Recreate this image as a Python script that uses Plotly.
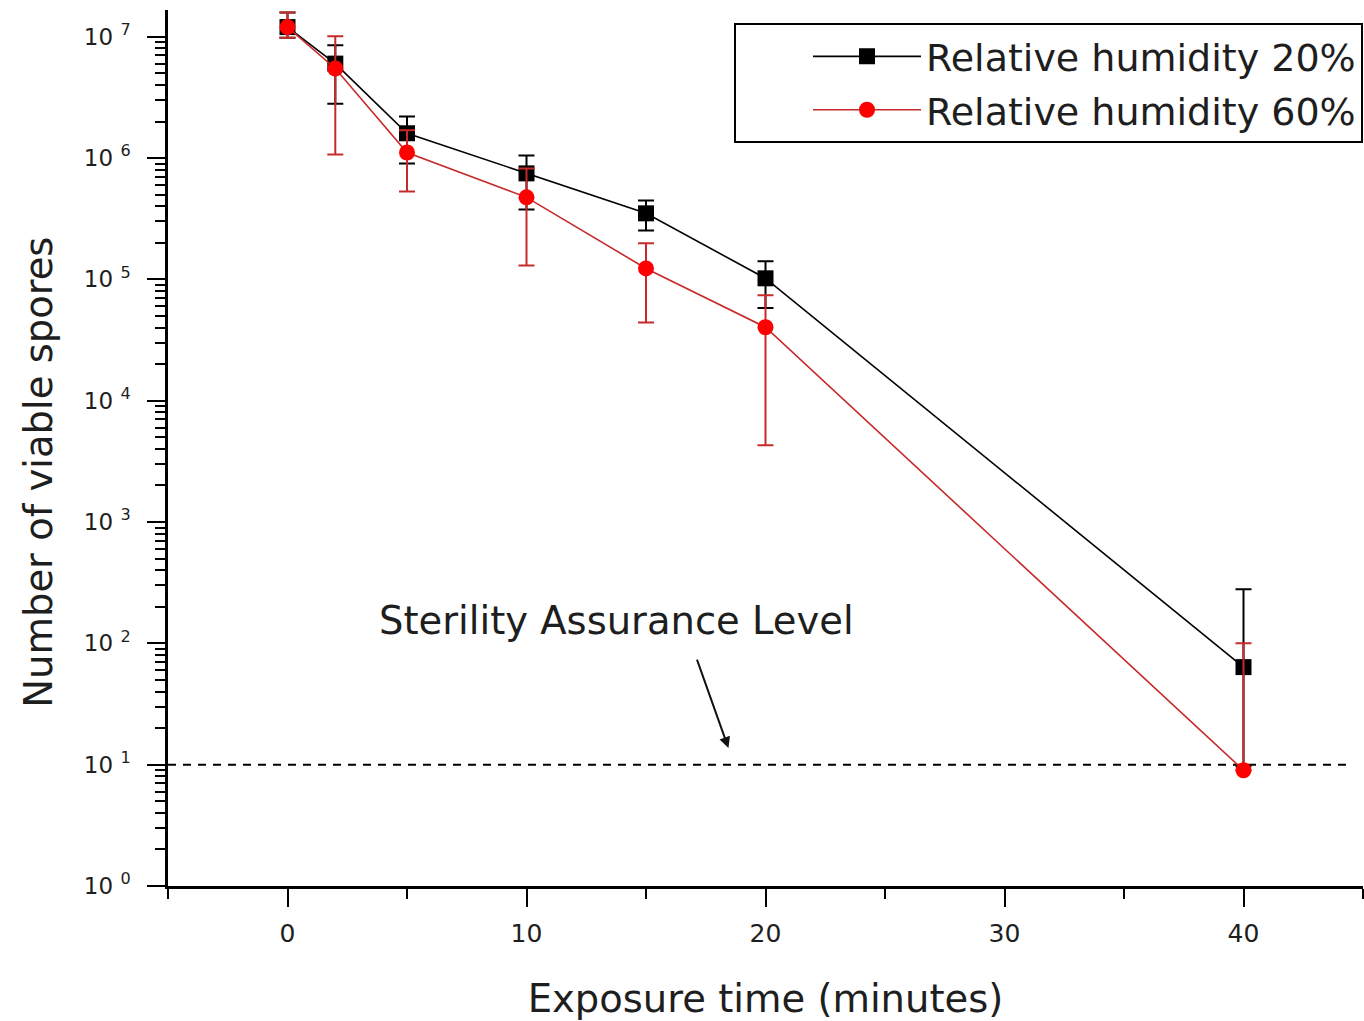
import plotly.graph_objects as go

# ---------------- data ----------------
time_min = [0, 2, 5, 10, 15, 20, 40]

rh20_mean = [1.2e7, 6.0e6, 1.6e6, 7.47e5, 3.5e5, 1.02e5, 63.7]
rh20_err_plus = [3.8e6, 2.5e6, 6.0e5, 3.0e5, 9.7e4, 3.9e4, 215]
rh20_err_minus = [2.2e6, 3.2e6, 7.0e5, 3.7e5, 9.7e4, 4.4e4, 54]

rh60_mean = [1.2e7, 5.47e6, 1.11e6, 4.74e5, 1.23e5, 4.03e4, 9.0]
rh60_err_plus = [3.8e6, 4.6e6, 5.8e5, 3.44e5, 7.5e4, 3.35e4, 91]
rh60_err_minus = [2.2e6, 4.4e6, 5.8e5, 3.44e5, 7.9e4, 3.6e4, 0]

series_names = ["Relative humidity 20%", "Relative humidity 60%"]

sal_x = [-5, 44.4]
sal_y = [10, 10]
sal_label = "Sterility Assurance Level"

y_tick_vals = [1, 10, 100, 1e3, 1e4, 1e5, 1e6, 1e7]
y_tick_text = ["10 <sup>%d</sup>" % i for i in range(8)]
x_tick_vals = [0, 10, 20, 30, 40]

x_title = "Exposure time (minutes)"
y_title = "Number of viable spores"

FONT = "DejaVu Sans"
TXT = "#1e1e1e"
RED_LINE = "#c72a2a"
RED_MARK = "#ff0000"

fig = go.Figure()

fig.add_trace(go.Scatter(
    x=sal_x, y=sal_y, mode="lines",
    line=dict(color="black", width=2, dash="8px,7px"),
    showlegend=False, hoverinfo="skip"))

fig.add_trace(go.Scatter(
    x=time_min, y=rh20_mean, name=series_names[0], mode="lines+markers",
    line=dict(color="black", width=1.6),
    marker=dict(symbol="square", size=16, color="black"),
    error_y=dict(type="data", symmetric=False, array=rh20_err_plus,
                 arrayminus=rh20_err_minus, color="black", thickness=2, width=8),
    legendgroup="a"))

fig.add_trace(go.Scatter(
    x=time_min, y=rh60_mean, name=series_names[1], mode="lines+markers",
    line=dict(color=RED_LINE, width=1.6),
    marker=dict(symbol="circle", size=16, color=RED_MARK),
    error_y=dict(type="data", symmetric=False, array=rh60_err_plus,
                 arrayminus=rh60_err_minus, color=RED_LINE, thickness=2, width=8),
    legendgroup="b"))

fig.add_annotation(x=13.78, y=2.19, xref="x", yref="y", text=sal_label,
                   showarrow=False, font=dict(family=FONT, size=38.5, color=TXT))
fig.add_annotation(x=18.45, y=1.137, xref="x", yref="y", text="",
                   showarrow=True, arrowhead=2, arrowsize=1.1, arrowwidth=2,
                   arrowcolor="#111111", ax=-32, ay=-90)
# y-axis title (placed as rotated annotation to match reference position)
fig.add_annotation(x=-0.109, y=0.4726, xref="paper", yref="paper",
                   text=y_title, textangle=-90, showarrow=False,
                   xanchor="center", yanchor="middle",
                   font=dict(family=FONT, size=38.5, color=TXT))

axis_common = dict(showline=True, linecolor="black", linewidth=2.5,
                   ticks="outside", ticklen=18, tickwidth=2, tickcolor="black",
                   showgrid=False, zeroline=False, mirror=False)

fig.update_xaxes(range=[-5, 45], tickvals=x_tick_vals,
                 tickfont=dict(family=FONT, size=25, color=TXT),
                 ticklabelstandoff=5,
                 minor=dict(ticks="outside", ticklen=10, tickwidth=2,
                            tickcolor="black", dtick=5, tick0=0),
                 title=dict(text=x_title,
                            font=dict(family=FONT, size=38.5, color=TXT), standoff=39),
                 **axis_common)

fig.update_yaxes(type="log", range=[0, 7.22], tickvals=y_tick_vals,
                 ticktext=y_tick_text,
                 tickfont=dict(family=FONT, size=23, color=TXT),
                 ticklabelstandoff=12,
                 minor=dict(ticks="outside", ticklen=10, tickwidth=2,
                            tickcolor="black", dtick="D1"),
                 **axis_common)

fig.update_layout(
    width=1364, height=1021,
    margin=dict(l=168, r=1, t=10, b=135),
    paper_bgcolor="white", plot_bgcolor="white",
    legend=dict(x=1, xanchor="right", y=0.985, yanchor="top",
                bordercolor="black", borderwidth=2, bgcolor="white",
                font=dict(family=FONT, size=38, color=TXT),
                itemwidth=108, tracegroupgap=1, indentation=72),
)

fig.write_html("out.html", config={"displayModeBar": False},
               post_script="document.body.style.margin='0';")
